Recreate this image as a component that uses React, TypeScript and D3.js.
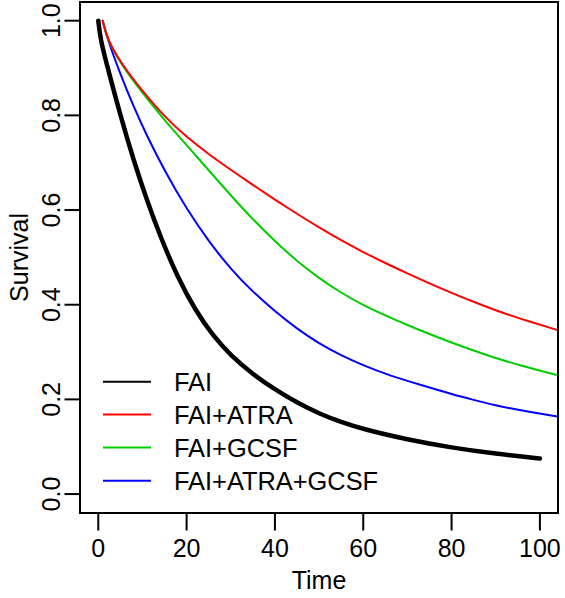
import React from "react";
import * as d3 from "d3";

// ---- data ----
const faiTime = [0, 0.5, 2, 5, 8, 11, 14, 18, 22, 26, 30, 35, 40, 45, 50, 55, 60, 70, 80, 90, 100];
const faiSurv = [1.0, 0.96, 0.905, 0.8, 0.705, 0.621, 0.545, 0.457, 0.388, 0.334, 0.293, 0.253, 0.221, 0.193, 0.17, 0.152, 0.137, 0.115, 0.098, 0.085, 0.075];

const atraTime = [1, 2, 5, 10, 15, 20, 25, 30, 35, 40, 45, 50, 55, 60, 65, 70, 75, 80, 85, 90, 95, 104.5];
const atraSurv = [1.0, 0.962, 0.912, 0.851, 0.797, 0.754, 0.718, 0.685, 0.653, 0.622, 0.592, 0.563, 0.536, 0.511, 0.488, 0.466, 0.445, 0.425, 0.406, 0.388, 0.372, 0.345];

const gcsfTime = [1, 2, 5, 10, 15, 20, 25, 30, 35, 40, 45, 50, 55, 60, 65, 70, 75, 80, 85, 90, 95, 104.5];
const gcsfSurv = [1.0, 0.962, 0.91, 0.847, 0.79, 0.737, 0.684, 0.631, 0.58, 0.534, 0.492, 0.456, 0.425, 0.399, 0.377, 0.357, 0.338, 0.32, 0.303, 0.287, 0.273, 0.25];

const bothTime = [1, 2, 5, 8, 11, 15, 20, 25, 30, 35, 40, 45, 50, 55, 60, 65, 70, 75, 80, 85, 90, 95, 104.5];
const bothSurv = [1.0, 0.963, 0.887, 0.818, 0.757, 0.683, 0.602, 0.534, 0.475, 0.427, 0.386, 0.349, 0.318, 0.293, 0.272, 0.254, 0.239, 0.225, 0.211, 0.199, 0.187, 0.178, 0.163];

const seriesNames = ["FAI", "FAI+ATRA", "FAI+GCSF", "FAI+ATRA+GCSF"];
const seriesColors = ["#000000", "#FF0000", "#00CD00", "#0000FF"];
const xTicks = [0, 20, 40, 60, 80, 100];
const yTicks = [0.0, 0.2, 0.4, 0.6, 0.8, 1.0];
const xLabel = "Time";
const yLabel = "Survival";

const W = 565;
const H = 598;
const L = 80, R = 558, T = 2, B = 513;

export default function App() {
  const x = d3.scaleLinear().domain([-4.14, 104.1]).range([L, R]);
  const y = d3.scaleLinear().domain([-0.04, 1.0395]).range([B, T]);

  const series = [
    { t: faiTime, s: faiSurv, w: 4.5 },
    { t: atraTime, s: atraSurv, w: 2 },
    { t: gcsfTime, s: gcsfSurv, w: 2 },
    { t: bothTime, s: bothSurv, w: 2 },
  ];

  const line = d3
    .line<[number, number]>()
    .x((d) => x(d[0]))
    .y((d) => y(d[1]))
    .curve(d3.curveBasis);

  const font = "Liberation Sans, Arial, Helvetica, sans-serif";
  const legendRows = [381.7, 414.5, 447.5, 480.7];

  return (
    <svg
      width={W}
      height={H}
      style={{ position: "absolute", left: 0, top: 0, background: "#fff" }}
      fontFamily={font}
    >
      <defs>
        <clipPath id="plotclip">
          <rect x={L} y={T} width={R - L} height={B - T} />
        </clipPath>
      </defs>
      <rect x={0} y={0} width={W} height={H} fill="#fff" />

      <g clipPath="url(#plotclip)">
        {[3, 2, 1, 0].map((i) => {
          const sr = series[i];
          const pts = sr.t.map((t, k) => [t, sr.s[k]] as [number, number]);
          return (
            <path
              key={i}
              d={line(pts) || ""}
              fill="none"
              stroke={seriesColors[i]}
              strokeWidth={sr.w}
              strokeLinecap="round"
              strokeLinejoin="round"
            />
          );
        })}
      </g>

      {/* box */}
      <rect x={L} y={T} width={R - L} height={B - T} fill="none" stroke="#000" strokeWidth={2} />

      {/* x axis */}
      {xTicks.map((t) => (
        <g key={"x" + t}>
          <line x1={x(t)} x2={x(t)} y1={B} y2={530.5} stroke="#000" strokeWidth={2} />
          <text x={x(t)} y={557} textAnchor="middle" fontSize={25}>
            {t}
          </text>
        </g>
      ))}
      <text x={(L + R) / 2} y={589} textAnchor="middle" fontSize={25}>
        {xLabel}
      </text>

      {/* y axis */}
      {yTicks.map((v) => (
        <g key={"y" + v}>
          <line x1={L} x2={64.5} y1={y(v)} y2={y(v)} stroke="#000" strokeWidth={2} />
          <text
            transform={`translate(59.5,${y(v)}) rotate(-90)`}
            textAnchor="middle"
            fontSize={25}
          >
            {v.toFixed(1)}
          </text>
        </g>
      ))}
      <text
        transform={`translate(28,${(T + B) / 2}) rotate(-90)`}
        textAnchor="middle"
        fontSize={25}
      >
        {yLabel}
      </text>

      {/* legend */}
      {seriesNames.map((name, i) => (
        <g key={name}>
          <line
            x1={103}
            x2={151}
            y1={legendRows[i]}
            y2={legendRows[i]}
            stroke={seriesColors[i]}
            strokeWidth={2}
          />
          <text x={174} y={legendRows[i] + 9} fontSize={25.4}>
            {name}
          </text>
        </g>
      ))}
    </svg>
  );
}
